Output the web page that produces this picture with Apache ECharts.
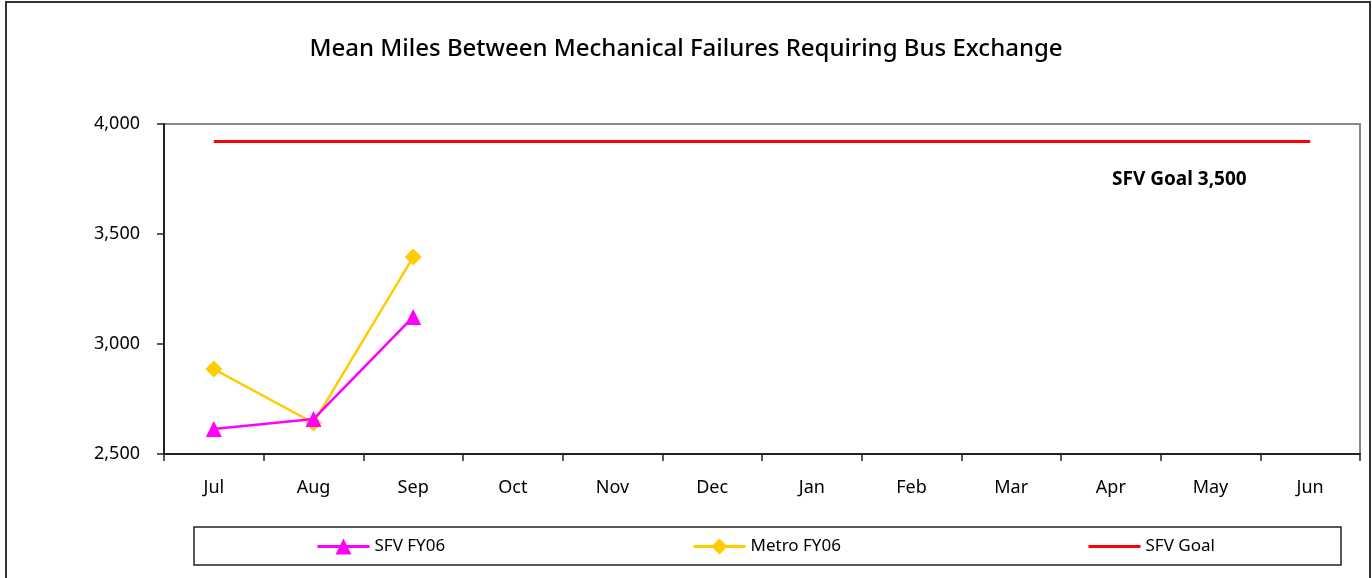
<!DOCTYPE html>
<html><head><meta charset="utf-8">
<script src="https://cdn.jsdelivr.net/npm/echarts@6/dist/echarts.min.js"></script>
<style>html,body{margin:0;padding:0;background:#fff}#c{width:1372px;height:578px}</style>
</head><body><div id="c"></div>
<script>
const months = ['Jul','Aug','Sep','Oct','Nov','Dec','Jan','Feb','Mar','Apr','May','Jun'];
const sfvFY06 = [2614, 2659, 3123];
const metroFY06 = [2886, 2641, 3395];
const sfvGoal = [3920, 3920, 3920, 3920, 3920, 3920, 3920, 3920, 3920, 3920, 3920, 3920];
const goalLabel = 'SFV Goal 3,500';
const titleText = 'Mean Miles Between Mechanical Failures Requiring Bus Exchange';

const chart = echarts.init(document.getElementById('c'));
const font = 'Noto Sans';
const legendText = {fontFamily: font, fontSize: 17, color: '#000'};
chart.setOption({
  animation: false,
  title: {text: titleText, left: 'center', top: 32, textStyle: {fontFamily: font, fontSize: 24, fontWeight: 500, color: '#000'}},
  grid: {left: 164, right: 12, top: 124, bottom: 124, show: true, borderColor: '#888', borderWidth: 2, backgroundColor: '#fff'},
  xAxis: {type: 'category', data: months, boundaryGap: true,
    axisLine: {lineStyle: {color: '#222', width: 2}},
    axisTick: {show: true, alignWithLabel: false, length: 7, lineStyle: {color: '#222', width: 1.5}},
    axisLabel: {fontFamily: font, fontSize: 18, color: '#000', margin: 25}},
  yAxis: {type: 'value', min: 2500, max: 4000, interval: 500,
    axisLine: {show: true, lineStyle: {color: '#222', width: 2}},
    axisTick: {show: true, length: 7, lineStyle: {color: '#222', width: 1.5}},
    splitLine: {show: false},
    axisLabel: {fontFamily: font, fontSize: 18, color: '#000', margin: 24,
      formatter: v => v.toLocaleString('en-US')}},
  legend: [
    {data: [{name: 'SFV FY06', lineStyle: {width: 3}}], left: 311, top: 533, itemWidth: 52, itemHeight: 20, textStyle: legendText},
    {data: [{name: 'Metro FY06', lineStyle: {width: 3}}], left: 687, top: 533, itemWidth: 52, itemHeight: 20, textStyle: legendText},
    {data: [{name: 'SFV Goal', itemStyle: {opacity: 0}, lineStyle: {width: 3}}], left: 1082, top: 533, itemWidth: 52, itemHeight: 20, textStyle: legendText}
  ],
  series: [
    {name: 'SFV Goal', type: 'line', data: sfvGoal, symbol: 'none', lineStyle: {color: '#ff0000', width: 3}, itemStyle: {color: '#ff0000'}, z: 1},
    {name: 'Metro FY06', type: 'line', data: metroFY06, symbol: 'diamond', symbolSize: 17, lineStyle: {color: '#ffcc00', width: 2.5}, itemStyle: {color: '#ffcc00'}, z: 2},
    {name: 'SFV FY06', type: 'line', data: sfvFY06, symbol: 'triangle', symbolSize: 16, lineStyle: {color: '#ff00ff', width: 2.5}, itemStyle: {color: '#ff00ff'}, z: 3}
  ],
  graphic: [
    {type: 'rect', shape: {x: 6, y: 2, width: 1364, height: 620}, style: {fill: 'none', stroke: '#333', lineWidth: 2}, silent: true},
    {type: 'rect', shape: {x: 194, y: 527, width: 1147, height: 38}, style: {fill: 'none', stroke: '#222', lineWidth: 1.5}, silent: true},
    {type: 'text', left: 1112, top: 170, style: {text: goalLabel, fontFamily: font, fontSize: 19, fontWeight: 'bold', fill: '#000'}}
  ]
});
</script></body></html>
